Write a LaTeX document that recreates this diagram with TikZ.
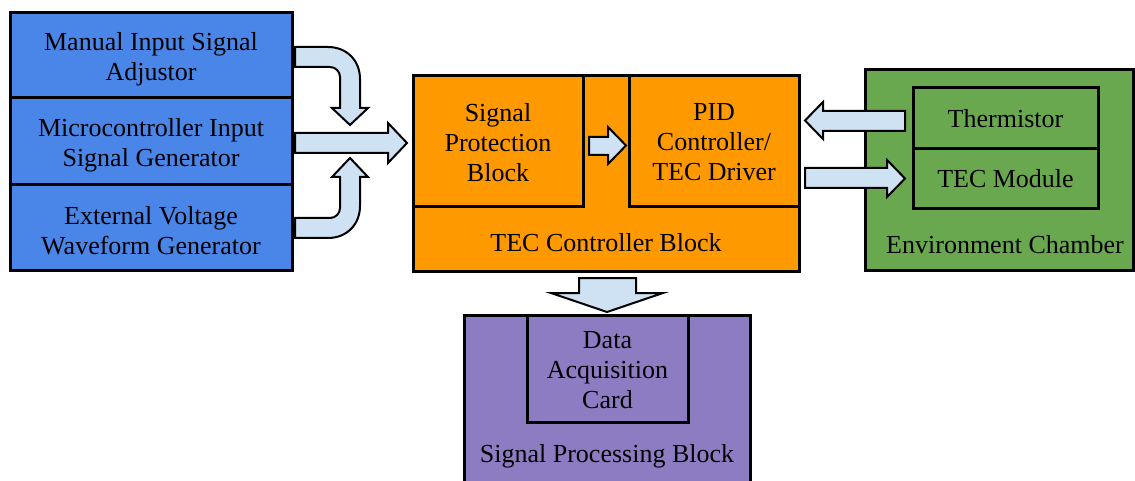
\documentclass[tikz,border=0pt]{standalone}
\usepackage{fontspec}
\setmainfont{Liberation Serif}
\definecolor{blockblue}{HTML}{4A86E8}
\definecolor{blockorange}{HTML}{FF9900}
\definecolor{blockgreen}{HTML}{6AA84F}
\definecolor{blockpurple}{HTML}{8E7CC3}
\definecolor{flowfill}{HTML}{CFE2F3}
\tikzset{
  blk/.style={draw=black, line width=3pt, rectangle, inner sep=0pt},
  flow/.style={draw=black, line width=2pt, fill=flowfill, line join=miter},
  lbl/.style={font=\fontsize{26}{30}\selectfont, inner sep=0pt, align=center}
}
\begin{document}
\begin{tikzpicture}[x=1pt,y=-1pt]
\useasboundingbox (0,0) rectangle (1135,481);
\clip (0,0) rectangle (1135,481);

% input sources
\node[blk, fill=blockblue, minimum width=282pt, minimum height=85pt] (manual) at (151,55.5) {};
\node[blk, fill=blockblue, minimum width=282pt, minimum height=87pt] (micro) at (151,141.5) {};
\node[blk, fill=blockblue, minimum width=282pt, minimum height=85pt] (ext) at (151,227.5) {};
\node[lbl] (manuallbl) at ([yshift=-3.5pt]manual.center) {Manual Input Signal\\Adjustor};
\node[lbl] (microlbl) at ([yshift=-3.5pt]micro.center) {Microcontroller Input\\Signal Generator};
\node[lbl] (extlbl) at ([yshift=-3pt]ext.center) {External Voltage\\Waveform Generator};

% TEC controller
\node[blk, fill=blockorange, minimum width=386pt, minimum height=195pt] (tec) at (606,173.5) {};
\node[lbl] (teclbl) at (606,243) {TEC Controller Block};
\node[blk, fill=blockorange, minimum width=170pt, minimum height=131pt] (prot) at (498,141.5) {};
\node[blk, fill=blockorange, minimum width=170pt, minimum height=131pt] (pid) at (714,141.5) {};
\node[lbl] (protlbl) at ([yshift=-1pt]prot.center) {Signal\\Protection\\Block};
\node[lbl] (pidlbl) at ([yshift=-1pt]pid.center) {PID\\Controller/\\TEC Driver};

% environment chamber
\node[blk, fill=blockgreen, minimum width=268pt, minimum height=200pt] (env) at (999,170) {};
\node[lbl] (envlbl) at (1005,245) {Environment Chamber};
\node[blk, fill=blockgreen, minimum width=185pt, minimum height=61pt] (therm) at (1005.5,118.5) {};
\node[blk, fill=blockgreen, minimum width=185pt, minimum height=60pt] (tecmod) at (1005.5,179) {};
\node[lbl] (thermlbl) at (therm.center) {Thermistor};
\node[lbl] (tecmodlbl) at (tecmod.center) {TEC Module};

% signal processing
\node[blk, fill=blockpurple, minimum width=286pt, minimum height=190pt] (sig) at (607,410) {};
\node[lbl] (siglbl) at (607,456) {Signal Processing Block};
\node[blk, fill=blockpurple, minimum width=161pt, minimum height=107pt] (daq) at (607.5,368.5) {};
\node[lbl] (daqlbl) at ([yshift=-2pt]daq.center) {Data\\Acquisition\\Card};

% block arrows from the sources into the controller
\path[flow] (295,47) -- (328,47) .. controls (346.6,47) and (360,60.4) .. (360,79)
  -- (360,108) -- (368,108) -- (350,125) -- (332,108) -- (340,108) -- (340,77)
  .. controls (340,71.5) and (335.5,67) .. (330,67) -- (295,67) -- cycle;
\path[flow] (295,133) -- (388,133) -- (388,123) -- (407,143) -- (388,163) -- (388,153)
  -- (295,153) -- cycle;
\path[flow] (295,238) -- (328,238) .. controls (346.6,238) and (360,224.6) .. (360,206)
  -- (360,177) -- (368,177) -- (350,158) -- (332,177) -- (340,177) -- (340,208)
  .. controls (340,213.5) and (335.5,218) .. (330,218) -- (295,218) -- cycle;

% protection to PID
\path[flow] (589,137) -- (608,137) -- (608,127) -- (626,145.5) -- (608,164) -- (608,155)
  -- (589,155) -- cycle;

% thermistor feedback and driver output
\path[flow] (905,111) -- (823,111) -- (823,102) -- (805,120.5) -- (823,139) -- (823,131)
  -- (905,131) -- cycle;
\path[flow] (805,168) -- (887,168) -- (887,160) -- (905,178.5) -- (887,197) -- (887,188)
  -- (805,188) -- cycle;

% controller to signal processing
\path[flow] (579,278) -- (636,278) -- (636,293) -- (663,293) -- (607,312) -- (551,293)
  -- (579,293) -- cycle;
\end{tikzpicture}
\end{document}
